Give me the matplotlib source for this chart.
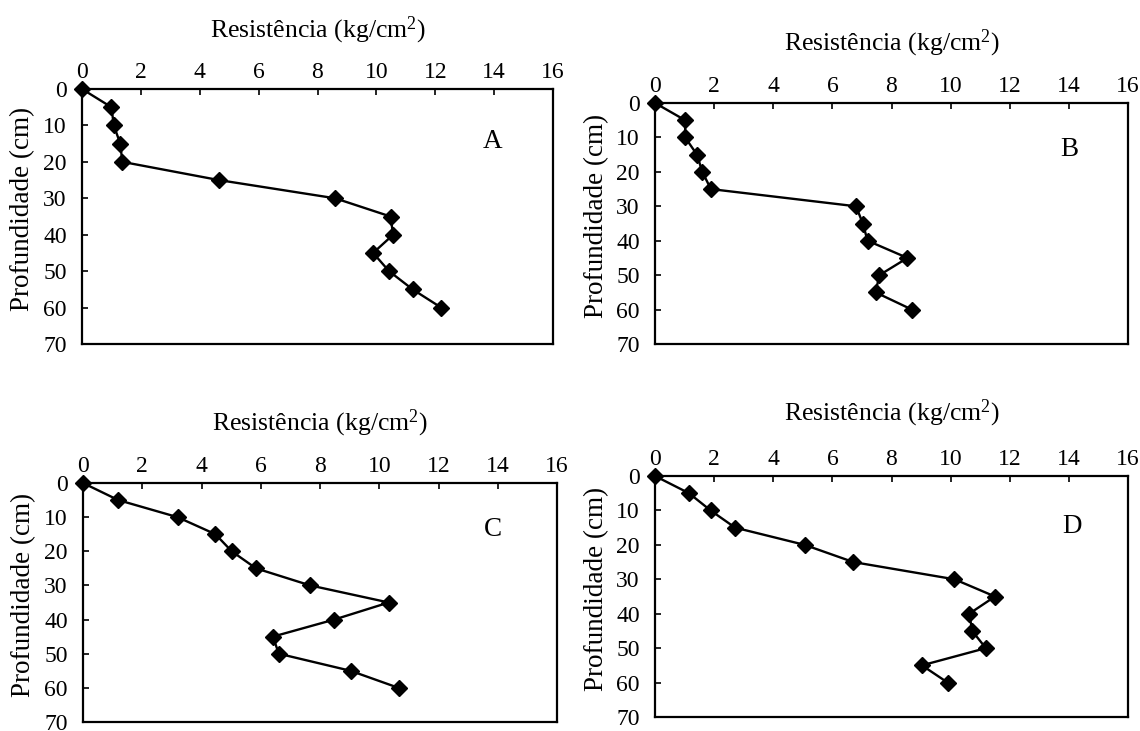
import matplotlib
matplotlib.use("Agg")
import matplotlib.pyplot as plt

plt.rcParams['font.family'] = ['Liberation Serif', 'DejaVu Serif']
plt.rcParams['mathtext.fontset'] = 'custom'
plt.rcParams['mathtext.rm'] = 'Liberation Serif'
plt.rcParams['mathtext.it'] = 'Liberation Serif:italic'

depth = [0, 5, 10, 15, 20, 25, 30, 35, 40, 45, 50, 55, 60]
res_A = [0, 1.0, 1.08, 1.3, 1.37, 4.65, 8.6, 10.48, 10.57, 9.89, 10.43, 11.23, 12.2]
res_B = [0, 1.02, 1.02, 1.42, 1.6, 1.89, 6.8, 7.03, 7.19, 8.54, 7.59, 7.46, 8.69]
res_C = [0, 1.19, 3.19, 4.47, 5.02, 5.84, 7.67, 10.32, 8.48, 6.41, 6.61, 9.03, 10.65]
res_D = [0, 1.15, 1.88, 2.71, 5.06, 6.71, 10.13, 11.5, 10.63, 10.73, 11.19, 9.03, 9.9]
panel_letters = ['A', 'B', 'C', 'D']
x_ticks = [0, 2, 4, 6, 8, 10, 12, 14, 16]
y_ticks = [0, 10, 20, 30, 40, 50, 60, 70]
xlabel = 'Resistência (kg/cm$^2$)'
ylabel = 'Profundidade (cm)'

W, H = 1140, 731
fig = plt.figure(figsize=(W / 100, H / 100), dpi=100)

# pixel boxes: left, right, top, bottom
boxes = [(82, 553, 89, 344), (655, 1128, 103, 344),
         (83, 557, 483, 722), (655, 1128, 476, 717)]
xlabel_y = [30, 43, 423, 413]
ylabel_x = [23, 597, 24, 597]
letter_pos = [(13.96, 14.5), (14.0, 13.6), (13.85, 13.6), (14.1, 14.7)]
series = [res_A, res_B, res_C, res_D]

for i in range(4):
    l, r, t, b = boxes[i]
    ax = fig.add_axes([l / W, 1 - b / H, (r - l) / W, (b - t) / H])
    ax.plot(series[i], depth, color='black', lw=1.7, marker='D', ms=8.3,
            mfc='black', mec='black', clip_on=False, zorder=3)
    ax.set_xlim(0, 16)
    ax.set_ylim(70, 0)
    ax.set_xticks(x_ticks)
    ax.set_yticks(y_ticks)
    ax.xaxis.tick_top()
    ax.tick_params(axis='both', direction='in', length=4.5, width=1.2,
                   labelsize=17, colors='black')
    ax.tick_params(axis='x', pad=4)
    ax.tick_params(axis='y', pad=11)
    for s in ax.spines.values():
        s.set_linewidth(1.6)
    ax.set_xlabel(xlabel, fontsize=18.5)
    ax.xaxis.set_label_position('top')
    ax.xaxis.label.set_va('center')
    ax.xaxis.set_label_coords(0.5, 1 + (t - xlabel_y[i]) / (b - t))
    ax.set_ylabel(ylabel, fontsize=19.5)
    ax.yaxis.label.set_va('center')
    ax.yaxis.set_label_coords((ylabel_x[i] - l) / (r - l), 0.53)
    lx, ly = letter_pos[i]
    ax.text(lx, ly, panel_letters[i], fontsize=19.5, ha='center', va='center')

fig.savefig('out.png', dpi=100)
